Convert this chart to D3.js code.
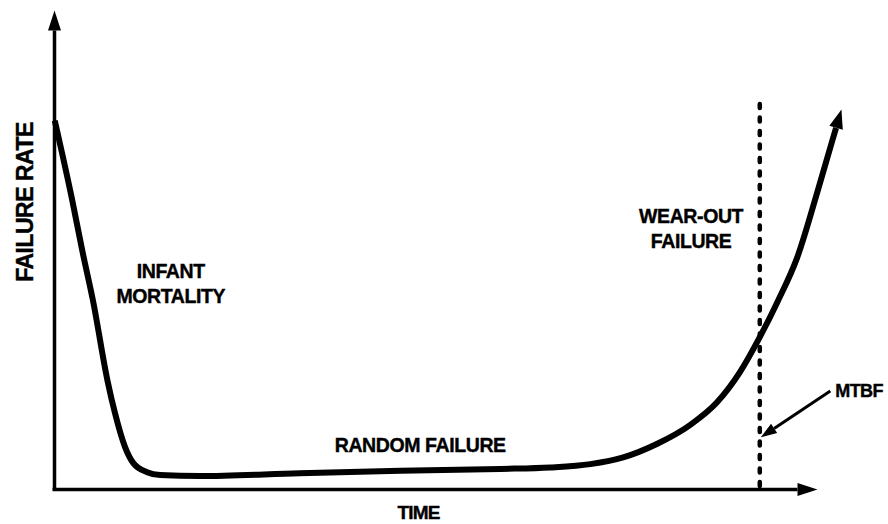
<!DOCTYPE html>
<html>
<head>
<meta charset="utf-8">
<script src="https://cdn.jsdelivr.net/npm/d3@7/dist/d3.min.js"></script>
<style>
    body{margin:0;background:#fff;}
    svg text{font-family:"Liberation Sans",Arial,sans-serif;font-weight:bold;fill:#000;stroke:#000;stroke-width:0.4;}
</style>
</head>
<body>
<svg id="chart" width="888" height="524"></svg>
<script>
"use strict";

// bathtub curve (time 0-100, failure rate 0-100)
var curveTime = [0.1, 2.4, 3.7, 5.1, 7.0, 8.0, 9.3, 10.4, 12.2, 13.9, 19.1, 32.2, 45.4, 58.5,
    65.0, 70.3, 74.6, 79.0, 83.4, 86.9, 89.9, 92.5, 94.8, 97.4, 100.1, 102.0, 102.5];
var curveRate = [76.9, 60.2, 49.8, 39.4, 22.7, 15.8, 8.8, 5.4, 3.5, 2.9, 2.7, 3.3, 3.8, 4.2,
    4.5, 5.2, 6.6, 9.4, 13.4, 18.1, 24.4, 31.7, 39.0, 48.3, 62.3, 72.7, 75.4];

var mtbfTime = 92.5;     //平均故障间隔
var mtbfRate = 10.8;
var mtbfLineTop = 80.4;  //虚线顶端

var xTitle = "TIME";
var yTitle = "FAILURE RATE";
var mtbfText = "MTBF";
var regionNames = [["INFANT", "MORTALITY"], ["RANDOM FAILURE"], ["WEAR-OUT", "FAILURE"]];

var svg = d3.select("#chart");

var x = d3.scaleLinear().domain([0, 100]).range([54, 817]);
var y = d3.scaleLinear().domain([0, 100]).range([489, 10]);

//箭头
var defs = svg.append("defs");
function arrowMarker(id, len, wid){
    defs.append("marker")
        .attr("id", id)
        .attr("markerUnits", "userSpaceOnUse")
        .attr("viewBox", [-1, -wid / 2 - 1, len + 2, wid + 2].join(" "))
        .attr("markerWidth", len + 2)
        .attr("markerHeight", wid + 2)
        .attr("refX", 0)
        .attr("refY", 0)
        .attr("orient", "auto")
        .append("path")
        .attr("d", "M0," + (-wid / 2) + "L" + len + ",0L0," + (wid / 2) + "Z")
        .attr("fill", "#000");
}
arrowMarker("axisHead", 20, 13);
arrowMarker("curveHead", 19, 14);
arrowMarker("mtbfHead", 16, 11);

//坐标轴（无刻度，末端带箭头）
var xAxisScale = x.copy().range([52, 797]);
var yAxisScale = y.copy().range([489, 30]);

var gx = svg.append("g")
    .attr("transform", "translate(0," + y(0) + ")")
    .call(d3.axisBottom(xAxisScale).tickValues([]).tickSizeOuter(0));
var gy = svg.append("g")
    .attr("transform", "translate(" + x(0) + ",0)")
    .call(d3.axisLeft(yAxisScale).tickValues([]).tickSizeOuter(0));
[gx, gy].forEach(function(g){
    g.select(".domain")
        .attr("stroke", "#000")
        .attr("stroke-width", 3.5)
        .attr("marker-end", "url(#axisHead)");
});

//MTBF 虚线
svg.append("line")
    .attr("x1", x(mtbfTime)).attr("x2", x(mtbfTime))
    .attr("y1", y(mtbfLineTop)).attr("y2", y(0))
    .attr("stroke", "#000")
    .attr("stroke-width", 4.5)
    .attr("stroke-linecap", "round")
    .attr("stroke-dasharray", "4,9.5");

//浴盆曲线
var pts = curveTime.map(function(t, i){ return [t, curveRate[i]]; });
var line = d3.line()
    .x(function(d){ return x(d[0]); })
    .y(function(d){ return y(d[1]); })
    .curve(d3.curveMonotoneX);
svg.append("path")
    .datum(pts)
    .attr("d", line)
    .attr("fill", "none")
    .attr("stroke", "#000")
    .attr("stroke-width", 6)
    .attr("stroke-linejoin", "round")
    .attr("marker-end", "url(#curveHead)");

//MTBF 标注
var mtbfLabelX = x(102.4), mtbfLabelY = y(19.2);
var tipX = x(mtbfTime) + 1, tipY = y(mtbfRate);
var sx = mtbfLabelX - 5, sy = mtbfLabelY - 6;
var dx = sx - tipX, dy = sy - tipY, dl = Math.sqrt(dx * dx + dy * dy);
svg.append("line")
    .attr("x1", sx).attr("y1", sy)
    .attr("x2", tipX + dx / dl * 16).attr("y2", tipY + dy / dl * 16)
    .attr("stroke", "#000")
    .attr("stroke-width", 3)
    .attr("marker-end", "url(#mtbfHead)");
svg.append("text")
    .attr("x", mtbfLabelX)
    .attr("y", mtbfLabelY)
    .attr("font-size", 18)
    .attr("letter-spacing", -0.6)
    .text(mtbfText);

//区域标签
var regionPos = [[15.3, 44.0], [48.0, 7.7], [83.5, 55.5]];
regionNames.forEach(function(lines, i){
    var t = svg.append("text")
        .attr("text-anchor", "middle")
        .attr("font-size", 19.5)
        .attr("letter-spacing", -0.4);
    lines.forEach(function(s, j){
        t.append("tspan")
            .attr("x", x(regionPos[i][0]))
            .attr("y", y(regionPos[i][1]) + j * 24.5)
            .text(s);
    });
});

//轴标题
svg.append("text")
    .attr("x", (x(0) + x(100)) / 2 - 17)
    .attr("y", 519)
    .attr("text-anchor", "middle")
    .attr("font-size", 19)
    .attr("letter-spacing", -0.8)
    .text(xTitle);
svg.append("text")
    .attr("transform", "translate(33," + 202 + ") rotate(-90)")
    .attr("text-anchor", "middle")
    .attr("font-size", 23)
    .attr("letter-spacing", -0.5)
    .text(yTitle);
</script>
</body>
</html>
